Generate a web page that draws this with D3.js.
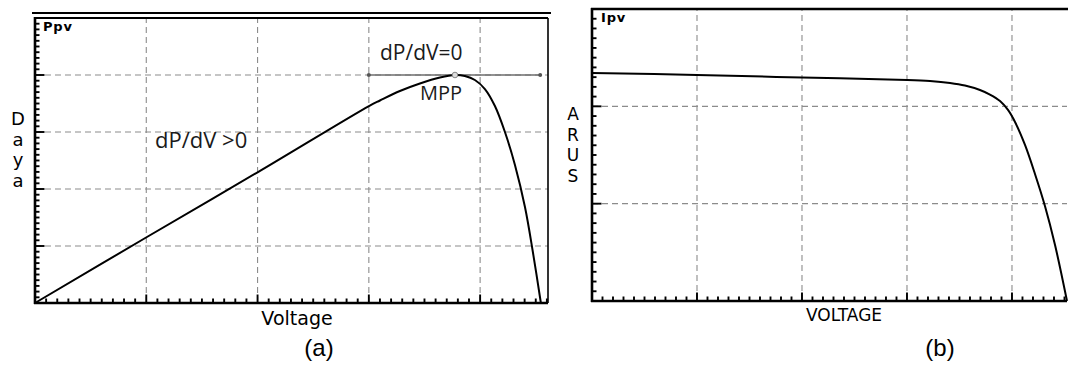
<!DOCTYPE html>
<html>
<head>
<meta charset="utf-8">
<script src="https://cdn.jsdelivr.net/npm/d3@7"></script>
<style>
  html, body { margin: 0; padding: 0; background: #fff; }
  svg { display: block; }
</style>
</head>
<body>
<script>
// ---------- DATA ----------
// Panel (a): P-V curve (voltage and power in grid divisions)
const pvVoltage = [0, 1.006, 2.004, 3.001, 3.10, 3.279, 3.459, 3.639, 3.774, 3.863, 3.953, 4.043, 4.133, 4.223, 4.313, 4.403, 4.474, 4.546];
const pvPower   = [0, 1.158, 2.298, 3.456, 3.553, 3.719, 3.851, 3.956, 4.0, 3.982, 3.912, 3.754, 3.456, 3.0, 2.421, 1.684, 0.895, 0];
const tangentV = [3.0, 4.54];
const tangentP = 4.0;
const mppV = 3.774, mppP = 4.0;

// Panel (b): I-V curve
const ivVoltage = [0, 1.0, 2.0, 3.0, 3.219, 3.41, 3.552, 3.695, 3.79, 3.886, 3.962, 4.029, 4.124, 4.219, 4.314, 4.41, 4.524];
const ivCurrent = [2.343, 2.322, 2.296, 2.271, 2.26, 2.24, 2.214, 2.168, 2.121, 2.055, 1.963, 1.839, 1.603, 1.305, 0.976, 0.575, 0];

const gridA_V = [1, 2, 3, 4];
const gridA_P = [1, 2, 3, 4];
const gridB_V = [1, 2, 3, 4];
const gridB_I = [1, 2];

const labels = {
  aY: "Ppv", aXTitle: "Voltage", aYTitle: ["D", "a", "y", "a"],
  aCap: "(a)", slopePos: "dP/dV >0", slopeZero: "dP/dV=0", mpp: "MPP",
  bY: "Ipv", bXTitle: "VOLTAGE", bYTitle: ["A", "R", "U", "S"], bCap: "(b)"
};

// ---------- SETUP ----------
const W = 1068, H = 367;
const svg = d3.select("body").append("svg").attr("width", W).attr("height", H);
const gothic = "'DejaVu Sans', sans-serif";
const calibri = "'Open Sans', 'Noto Sans', sans-serif";
const arial = "'Liberation Sans', Arial, sans-serif";

function minorVals(max) {
  const out = [];
  for (let i = 1; i / 10 <= max + 1e-9; i++) out.push(i / 10);
  return out;
}
const isMajor = (d, grid) => { const r = Math.round(d * 10) / 10; return Number.isInteger(r) && grid.includes(r); };

function drawPanel(g, x, y, gridX, gridY, xMax, yMax) {
  const [x0, x1] = x.range();
  const [y0, y1] = y.range(); // y0 bottom, y1 top
  // grid
  g.append("g").selectAll("line").data(gridX).join("line")
    .attr("x1", d => x(d)).attr("x2", d => x(d))
    .attr("y1", y0).attr("y2", y1)
    .attr("stroke", "#8c8c8c").attr("stroke-width", 1.1).attr("stroke-dasharray", "6,4");
  g.append("g").selectAll("line").data(gridY).join("line")
    .attr("x1", x0).attr("x2", x1)
    .attr("y1", d => y(d)).attr("y2", d => y(d))
    .attr("stroke", "#8c8c8c").attr("stroke-width", 1.1).attr("stroke-dasharray", "6,4");

  // ticks (minor every 0.1 division, major at grid)
  const tk = g.append("g").attr("stroke", "#000").attr("stroke-width", 1.9);
  tk.selectAll("line.xm").data(minorVals(xMax)).join("line").attr("class", "xm")
    .attr("x1", d => x(d)).attr("x2", d => x(d))
    .attr("y1", y0).attr("y2", d => y0 - (isMajor(d, gridX) ? 8.5 : 4.5));
  tk.selectAll("line.ym").data(minorVals(yMax)).join("line").attr("class", "ym")
    .attr("y1", d => y(d)).attr("y2", d => y(d))
    .attr("x1", x0).attr("x2", d => x0 + (isMajor(d, gridY) ? 9.5 : 4.5));

  // frame
  g.append("line").attr("x1", x0).attr("x2", x0).attr("y1", y1 - 1).attr("y2", y0 + 1)
    .attr("stroke", "#000").attr("stroke-width", 2.6);
  g.append("line").attr("x1", x0 - 1).attr("x2", x1).attr("y1", y0).attr("y2", y0)
    .attr("stroke", "#000").attr("stroke-width", 2.6);
}

// ---------- PANEL A ----------
const aX = d3.scaleLinear().domain([0, 4.61]).range([35, 548]);
const aY = d3.scaleLinear().domain([0, 5]).range([303, 18]);
const gA = svg.append("g");
drawPanel(gA, aX, aY, gridA_V, gridA_P, 4.61, 5);
gA.append("line").attr("x1", 35).attr("x2", 548).attr("y1", 18).attr("y2", 18)
  .attr("stroke", "#000").attr("stroke-width", 1.8);
gA.append("line").attr("x1", 548).attr("x2", 548).attr("y1", 18).attr("y2", 303)
  .attr("stroke", "#000").attr("stroke-width", 1.6);
gA.append("line").attr("x1", 32).attr("x2", 551).attr("y1", 13).attr("y2", 13)
  .attr("stroke", "#000").attr("stroke-width", 2);

// tangent line at MPP
gA.append("line")
  .attr("x1", aX(tangentV[0])).attr("x2", aX(tangentV[1]))
  .attr("y1", aY(tangentP)).attr("y2", aY(tangentP))
  .attr("stroke", "#6e6e6e").attr("stroke-width", 1.3);
gA.selectAll("circle.end").data(tangentV).join("circle").attr("class", "end")
  .attr("cx", d => aX(d)).attr("cy", aY(tangentP)).attr("r", 2).attr("fill", "#555");

const pvLine = d3.line().x((d, i) => aX(pvVoltage[i])).y(d => aY(d)).curve(d3.curveCatmullRom.alpha(0.5));
gA.append("path").datum(pvPower).attr("d", pvLine)
  .attr("fill", "none").attr("stroke", "#000").attr("stroke-width", 2);
gA.append("circle").attr("cx", aX(mppV)).attr("cy", aY(mppP)).attr("r", 2.8)
  .attr("fill", "#ddd").attr("stroke", "#888").attr("stroke-width", 1);

// texts A
gA.append("text").attr("x", 43).attr("y", 31).text(labels.aY)
  .attr("font-family", gothic).attr("font-size", 13).attr("font-weight", "bold").attr("letter-spacing", 0.8);
gA.append("text").attr("x", 297).attr("y", 325).attr("text-anchor", "middle").text(labels.aXTitle)
  .attr("font-family", gothic).attr("font-size", 19);
gA.append("text").selectAll("tspan").data(labels.aYTitle).join("tspan")
  .attr("x", 18).attr("y", (d, i) => 125 + i * 20.7).attr("text-anchor", "middle").text(d => d)
  .attr("font-family", gothic).attr("font-size", 18);
gA.append("text").attr("x", 319).attr("y", 356).attr("text-anchor", "middle").text(labels.aCap)
  .attr("font-family", arial).attr("font-size", 24);
gA.append("text").attr("x", 155).attr("y", 148).text(labels.slopePos)
  .attr("font-family", calibri).attr("font-size", 22).attr("fill", "#1a1a1a");
gA.append("text").attr("x", 380).attr("y", 60).text(labels.slopeZero)
  .attr("font-family", calibri).attr("font-size", 21).attr("fill", "#1a1a1a");
gA.append("text").attr("x", 441).attr("y", 100).attr("text-anchor", "middle").text(labels.mpp)
  .attr("font-family", calibri).attr("font-size", 20).attr("fill", "#1a1a1a");

// ---------- PANEL B ----------
const bX = d3.scaleLinear().domain([0, 4.524]).range([592, 1067]);
const bY = d3.scaleLinear().domain([0, 3]).range([301, 9]);
const gB = svg.append("g");
drawPanel(gB, bX, bY, gridB_V, gridB_I, 4.524, 3);
gB.append("line").attr("x1", 591).attr("x2", 1068).attr("y1", 9).attr("y2", 9)
  .attr("stroke", "#000").attr("stroke-width", 2.6);

const ivLine = d3.line().x((d, i) => bX(ivVoltage[i])).y(d => bY(d)).curve(d3.curveCatmullRom.alpha(0.5));
gB.append("path").datum(ivCurrent).attr("d", ivLine)
  .attr("fill", "none").attr("stroke", "#000").attr("stroke-width", 2);

gB.append("text").attr("x", 601).attr("y", 22).text(labels.bY)
  .attr("font-family", gothic).attr("font-size", 13).attr("font-weight", "bold").attr("letter-spacing", 0.8);
gB.append("text").attr("x", 844).attr("y", 321).attr("text-anchor", "middle").text(labels.bXTitle)
  .attr("font-family", gothic).attr("font-size", 17);
gB.append("text").selectAll("tspan").data(labels.bYTitle).join("tspan")
  .attr("x", 573).attr("y", (d, i) => 120 + i * 20.7).attr("text-anchor", "middle").text(d => d)
  .attr("font-family", gothic).attr("font-size", 17);
gB.append("text").attr("x", 940).attr("y", 356).attr("text-anchor", "middle").text(labels.bCap)
  .attr("font-family", arial).attr("font-size", 24);
</script>
</body>
</html>
